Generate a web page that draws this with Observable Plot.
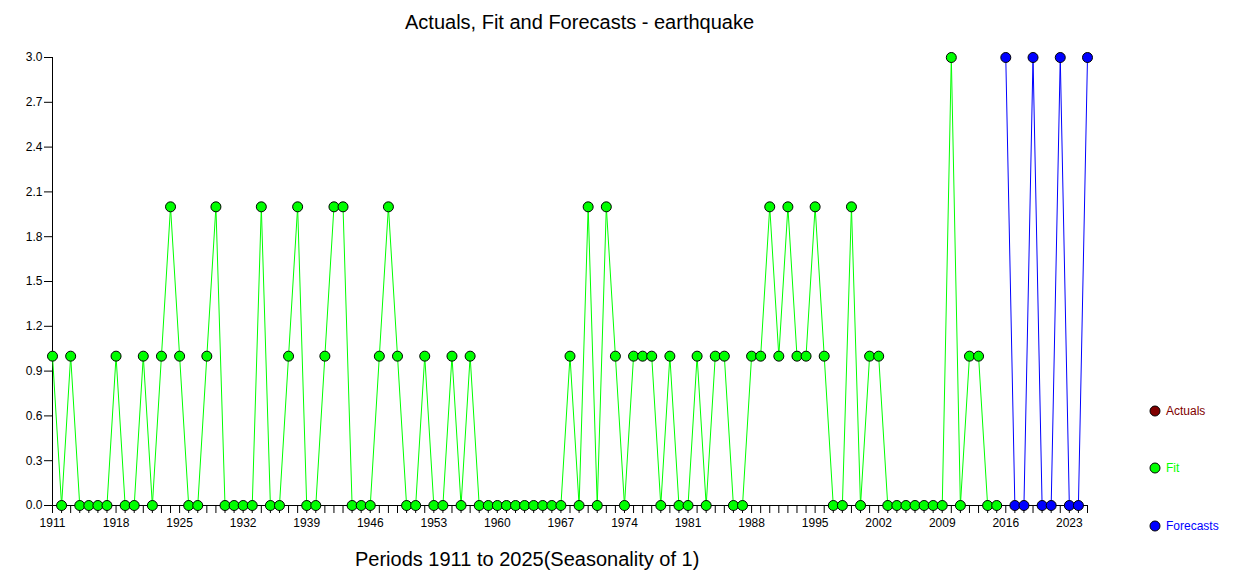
<!DOCTYPE html>
<html>
<head>
<meta charset="utf-8">
<script src="https://cdn.jsdelivr.net/npm/d3@7"></script>
<script src="https://cdn.jsdelivr.net/npm/@observablehq/plot@0.6"></script>
<style>
  html, body { margin: 0; padding: 0; background: #fff; }
  #wrap { position: relative; width: 1236px; height: 577px; font-family: "Liberation Sans", Arial, sans-serif; overflow: hidden; }
  #chart { position: absolute; left: 0; top: 0; }
  .title { position: absolute; white-space: nowrap; font-size: 20px; color: #000; line-height: 20px; }
  .legend-item { position: absolute; left: 1149px; display: flex; align-items: center; font-size: 12px; line-height: 12px; white-space: nowrap; }
  .legend-item svg { margin-right: 5px; }
</style>
</head>
<body>
<div id="wrap">
  <div id="chart"></div>
  <div class="title" style="left:405px; top:12px;">Actuals, Fit and Forecasts - earthquake</div>
  <div class="title" style="left:355px; top:549px;">Periods 1911 to 2025(Seasonality of 1)</div>
  <div id="legend"></div>
</div>
<script>
// ---- data ----
const fitStartYear = 1911;
const fitValues = [
  1,0,1,0,0,0,0,1,0,0,   // 1911-1920
  1,0,1,2,1,0,0,1,2,0,   // 1921-1930
  0,0,0,2,0,0,1,2,0,0,   // 1931-1940
  1,2,2,0,0,0,1,2,1,0,   // 1941-1950
  0,1,0,0,1,0,1,0,0,0,   // 1951-1960
  0,0,0,0,0,0,0,1,0,2,   // 1961-1970
  0,2,1,0,1,1,1,0,1,0,   // 1971-1980
  0,1,0,1,1,0,0,1,1,2,   // 1981-1990
  1,2,1,1,2,1,0,0,2,0,   // 1991-2000
  1,1,0,0,0,0,0,0,0,3,   // 2001-2010
  0,1,1,0,0              // 2011-2015
];
const forecastStartYear = 2016;
const forecastValues = [3,0,0,3,0,0,3,0,0,3]; // 2016-2025
const yTicks = [0,0.3,0.6,0.9,1.2,1.5,1.8,2.1,2.4,2.7,3.0];
const xLabelYears = [1911,1918,1925,1932,1939,1946,1953,1960,1967,1974,1981,1988,1995,2002,2009,2016,2023];
const allYears = d3.range(1911, 2026);
const legendItems = [
  {name: "Actuals", color: "#800000"},
  {name: "Fit", color: "#00ff00"},
  {name: "Forecasts", color: "#0000ff"}
];

const fit = fitValues.map((v, i) => ({year: fitStartYear + i, value: v}));
const forecast = forecastValues.map((v, i) => ({year: forecastStartYear + i, value: v}));

const chart = Plot.plot({
  width: 1236,
  height: 577,
  marginLeft: 52,
  marginRight: 149,
  marginTop: 57,
  marginBottom: 72,
  style: {fontFamily: "'Liberation Sans', Arial, sans-serif", fontSize: "12px", color: "#000", background: "#fff"},
  x: {domain: [1911, 2025]},
  y: {domain: [0, 3]},
  marks: [
    Plot.axisY({ticks: yTicks, tickFormat: d => d.toFixed(1), tickSize: 8, tickPadding: 2, fontSize: 12, label: null}),
    Plot.axisX({ticks: allYears, tickSize: 8, tickFormat: () => "", label: null}),
    Plot.axisX({ticks: xLabelYears, tickSize: 0, tickPadding: 13, tickFormat: d => String(d), fontSize: 12, label: null}),
    Plot.ruleX([1911], {stroke: "#000"}),
    Plot.ruleY([0], {stroke: "#000"}),
    Plot.line(fit, {x: "year", y: "value", stroke: "#00ff00", strokeWidth: 1}),
    Plot.line(forecast, {x: "year", y: "value", stroke: "#0000ff", strokeWidth: 1}),
    Plot.dot(fit, {x: "year", y: "value", r: 5, fill: "#00ff00", stroke: "#000", strokeWidth: 1}),
    Plot.dot(forecast, {x: "year", y: "value", r: 5, fill: "#0000ff", stroke: "#000", strokeWidth: 1})
  ]
});
document.getElementById("chart").appendChild(chart);

const legendTops = [405, 462, 520];
const legend = document.getElementById("legend");
legendItems.forEach((item, i) => {
  const div = document.createElement("div");
  div.className = "legend-item";
  div.style.top = legendTops[i] + "px";
  div.style.color = item.color;
  div.innerHTML = `<svg width="12" height="12"><circle cx="6" cy="6" r="5" fill="${item.color}" stroke="#000" stroke-width="1"/></svg>${item.name}`;
  legend.appendChild(div);
});
</script>
</body>
</html>
